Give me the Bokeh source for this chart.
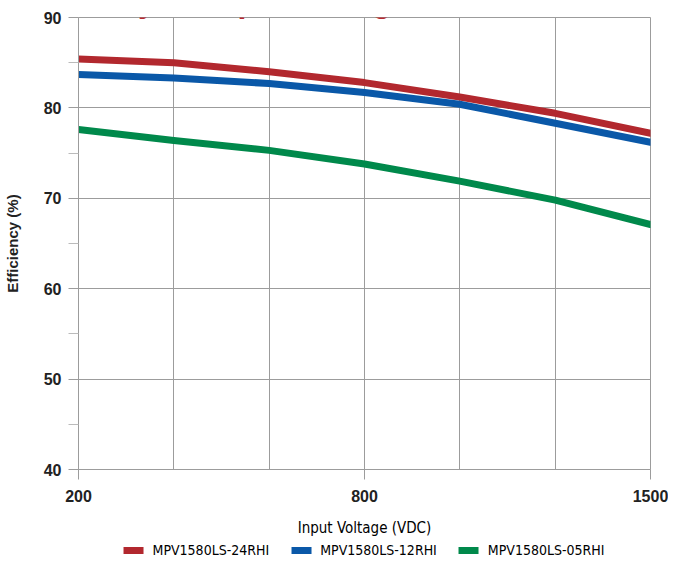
import numpy as np
from bokeh.plotting import figure
from bokeh.layouts import column
from bokeh.models import Range1d, FixedTicker, Legend, LegendItem, Label
from bokeh.embed import file_html
from bokeh.resources import INLINE

# Data
title_text = "Efficiency vs Input Voltage"
tick_volts = [200, 800, 1500]
volts = [200, 400, 600, 800, 1033, 1267, 1500]
eff_24 = [85.4, 85.0, 84.0, 82.8, 81.2, 79.4, 77.2]
eff_12 = [83.7, 83.3, 82.7, 81.7, 80.4, 78.3, 76.2]
eff_05 = [77.6, 76.4, 75.3, 73.8, 71.9, 69.8, 67.1]
series_names = ["MPV1580LS-24RHI", "MPV1580LS-12RHI", "MPV1580LS-05RHI"]
series_colors = ["#B2282E", "#0A58A8", "#00894B"]
y_ticks = [40, 50, 60, 70, 80, 90]
y_minor = [45, 55, 65, 75, 85]
x_tick_labels = ["200", "800", "1500"]

# piecewise axis: 200-800 and 800-1500 each take three grid cells
tick_pos = [0, 3, 6]
def xpos(v):
    return list(np.interp(v, tick_volts, tick_pos))

NARROW = "DejaVu Sans Condensed"
SANS = "'Liberation Sans', Arial, sans-serif"
GRID = "#9C9C9C"
series = [eff_24, eff_12, eff_05]

p = figure(width=668, height=539, output_backend="svg", toolbar_location=None,
           x_range=Range1d(0, 6), y_range=Range1d(40, 90),
           min_border_left=77, min_border_right=18, min_border_top=17,
           min_border_bottom=69)
p.outline_line_color = GRID
p.background_fill_color = "white"

# grids
p.xgrid.ticker = FixedTicker(ticks=list(range(7)))
p.xgrid.grid_line_color = GRID
p.ygrid.ticker = FixedTicker(ticks=y_ticks)
p.ygrid.grid_line_color = GRID

# x axis
p.xaxis.ticker = FixedTicker(ticks=tick_pos)
p.xaxis.major_label_overrides = {tp: lab for tp, lab in zip(tick_pos, x_tick_labels)}
p.xaxis.axis_label = "Input Voltage (VDC)"
p.xaxis.axis_label_text_font = NARROW
p.xaxis.axis_label_text_font_style = "normal"
p.xaxis.axis_label_text_font_size = "15px"
p.xaxis.axis_label_text_color = "#000000"
p.xaxis.axis_label_standoff = 14
p.xaxis.minor_tick_line_color = None

# y axis
p.yaxis.ticker = FixedTicker(ticks=y_ticks, minor_ticks=y_minor)
p.yaxis.axis_label = "Efficiency (%)"
p.yaxis.axis_label_text_font = SANS
p.yaxis.axis_label_text_font_style = "bold"
p.yaxis.axis_label_text_font_size = "15px"
p.yaxis.axis_label_text_color = "#222222"
p.yaxis.axis_label_standoff = 20
p.yaxis.minor_tick_out = 10
p.yaxis.minor_tick_in = 0
p.yaxis.minor_tick_line_color = "#BBBBBB"

for ax in (p.xaxis, p.yaxis):
    ax.axis_line_color = GRID
    ax.major_tick_line_color = GRID
    ax.major_tick_out = 10
    ax.major_tick_in = 0
    ax.major_label_text_font = SANS
    ax.major_label_text_font_style = "bold"
    ax.major_label_text_font_size = "16px"
    ax.major_label_text_color = "#222222"
p.xaxis.major_label_standoff = 10
p.yaxis.major_label_standoff = 7

for ys, col in zip(series, series_colors):
    p.line(xpos(volts), ys, line_color=col, line_width=7,
           line_join="round", line_cap="round")

# title, cut off by the top edge in the reference
title = Label(x=-74, y=469, x_units="screen", y_units="screen", text=title_text,
              text_font=SANS, text_font_style="bold", text_font_size="32px",
              text_color="#B8282E", text_baseline="alphabetic", text_align="left")
p.add_layout(title)

# legend strip below the chart (series drawn out of view, legend swatches only)
lg = figure(width=668, height=22, output_backend="svg", toolbar_location=None,
            x_range=Range1d(0, 6), y_range=Range1d(0, 1),
            min_border_left=77, min_border_right=18, min_border_top=0,
            min_border_bottom=0)
lg.axis.visible = False
lg.grid.visible = False
lg.outline_line_color = None
items = []
for n, ys, col in zip(series_names, series, series_colors):
    r = lg.line(xpos(volts), ys, line_color=col, line_width=7, line_cap="round")
    items.append(LegendItem(label=n, renderers=[r]))
legend = Legend(items=items, orientation="horizontal", location="center",
                border_line_color=None, background_fill_alpha=0,
                padding=2, margin=0, spacing=22,
                glyph_width=20, glyph_height=16, label_height=16, label_standoff=9,
                label_text_font=NARROW, label_text_font_size="14px",
                label_text_color="#000000")
lg.add_layout(legend)

layout = column(p, lg, spacing=0)
open("out.html", "w").write(file_html(layout, INLINE))
